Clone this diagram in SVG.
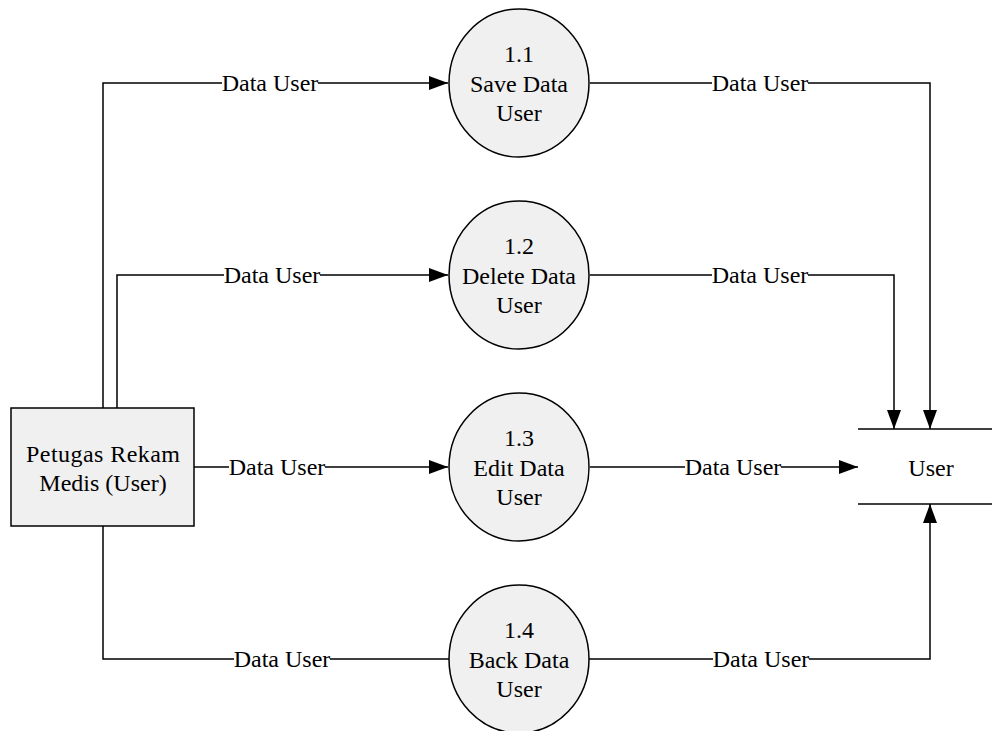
<svg xmlns="http://www.w3.org/2000/svg" width="992" height="731" viewBox="0 0 992 731" font-family="Liberation Serif" font-size="24" text-anchor="middle">
<defs>
<marker id="arr" markerWidth="20" markerHeight="14" refX="19" refY="7" orient="auto" markerUnits="userSpaceOnUse">
<path d="M0,0 L19,7 L0,14 Z" fill="#000"/>
</marker>
</defs>
<rect width="992" height="731" fill="#fff"/>
<g id="connectors" fill="none" stroke="#000" stroke-width="1.5">
<path d="M103,408 V83 H448" marker-end="url(#arr)"/>
<path d="M117,408 V275 H448" marker-end="url(#arr)"/>
<path d="M194,467 H448" marker-end="url(#arr)"/>
<path d="M103,526 V659 H449"/>
<path d="M590,83 H930 V429" marker-end="url(#arr)"/>
<path d="M590,275 H894 V429" marker-end="url(#arr)"/>
<path d="M590,467 H858" marker-end="url(#arr)"/>
<path d="M588,659 H930 V504" marker-end="url(#arr)"/>
<g stroke="none" fill="#fff">
<rect x="222" y="71" width="96" height="24"/>
<rect x="224" y="263" width="96" height="24"/>
<rect x="229" y="455" width="96" height="24"/>
<rect x="234" y="647" width="96" height="24"/>
<rect x="712" y="71" width="96" height="24"/>
<rect x="712" y="263" width="96" height="24"/>
<rect x="685" y="455" width="96" height="24"/>
<rect x="713" y="647" width="96" height="24"/>
</g>
<g stroke="none" fill="#000">
<text x="270" y="91" font-family="Liberation Serif">Data User</text>
<text x="272" y="283" font-family="Liberation Serif">Data User</text>
<text x="277" y="475" font-family="Liberation Serif">Data User</text>
<text x="282" y="667" font-family="Liberation Serif">Data User</text>
<text x="760" y="91" font-family="Liberation Serif">Data User</text>
<text x="760" y="283" font-family="Liberation Serif">Data User</text>
<text x="733" y="475" font-family="Liberation Serif">Data User</text>
<text x="761" y="667" font-family="Liberation Serif">Data User</text>
</g>
</g>
<g id="petugas">
<rect x="11" y="408" width="183" height="118" fill="#f0f0f0" stroke="#000" stroke-width="1.5"/>
<text x="103" y="462" font-family="Liberation Serif" textLength="154" lengthAdjust="spacing">Petugas Rekam</text>
<text x="103" y="491" font-family="Liberation Serif">Medis (User)</text>
</g>
<g id="p11">
<ellipse cx="519" cy="83" rx="70" ry="74" fill="#f0f0f0" stroke="#000" stroke-width="1.5"/>
<text x="519" y="62" font-family="Liberation Serif">1.1</text>
<text x="519" y="92" font-family="Liberation Serif">Save Data</text>
<text x="519" y="121" font-family="Liberation Serif">User</text>
</g>
<g id="p12">
<ellipse cx="519" cy="275" rx="70" ry="74" fill="#f0f0f0" stroke="#000" stroke-width="1.5"/>
<text x="519" y="254" font-family="Liberation Serif">1.2</text>
<text x="519" y="284" font-family="Liberation Serif">Delete Data</text>
<text x="519" y="313" font-family="Liberation Serif">User</text>
</g>
<g id="p13">
<ellipse cx="519" cy="467" rx="70" ry="74" fill="#f0f0f0" stroke="#000" stroke-width="1.5"/>
<text x="519" y="446" font-family="Liberation Serif">1.3</text>
<text x="519" y="476" font-family="Liberation Serif">Edit Data</text>
<text x="519" y="505" font-family="Liberation Serif">User</text>
</g>
<g id="p14">
<ellipse cx="519" cy="659" rx="70" ry="74" fill="#f0f0f0" stroke="#000" stroke-width="1.5"/>
<text x="519" y="638" font-family="Liberation Serif">1.4</text>
<text x="519" y="668" font-family="Liberation Serif">Back Data</text>
<text x="519" y="697" font-family="Liberation Serif">User</text>
</g>
<g id="store-user">
<line x1="858" y1="429" x2="992" y2="429" stroke="#000" stroke-width="1.5"/>
<line x1="858" y1="504" x2="992" y2="504" stroke="#000" stroke-width="1.5"/>
<text x="931" y="476" font-family="Liberation Serif">User</text>
</g>
</svg>
